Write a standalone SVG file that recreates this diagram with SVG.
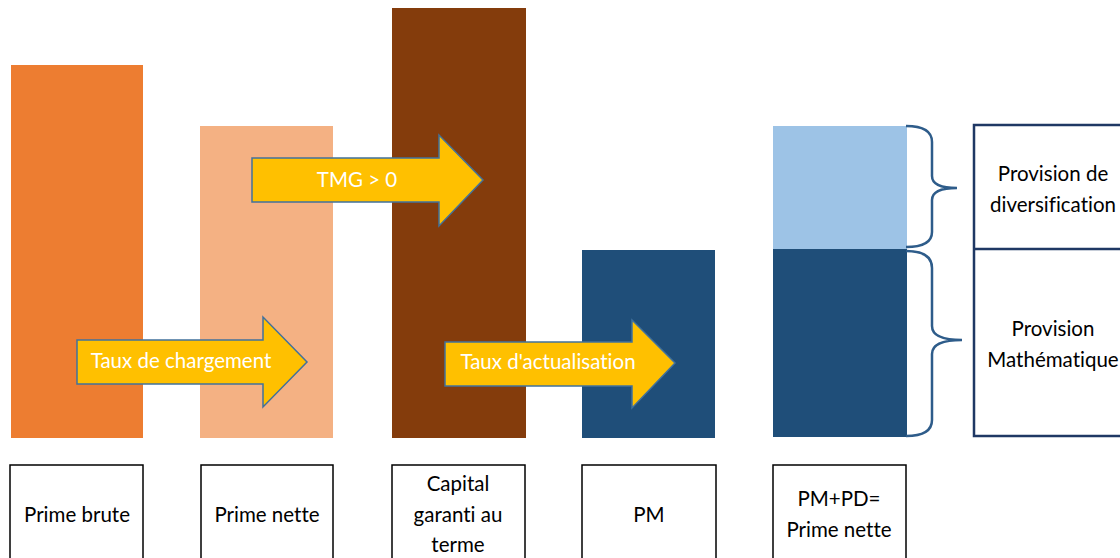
<svg xmlns="http://www.w3.org/2000/svg" width="1120" height="558" viewBox="0 0 1120 558">
<style>
text{font-family:Lato,"Open Sans","Liberation Sans",sans-serif;font-size:20.5px;text-anchor:middle;font-variant-ligatures:none}
.lbl{fill:#000}
.wt{fill:#fff}
.box{fill:#fff;stroke:#000;stroke-width:1.5}
.arrow{fill:#FFC000;stroke:#41719C;stroke-width:1.5}
.brace{fill:none;stroke:#2E5C8A;stroke-width:2.5}
.rbox{fill:#fff;stroke:#1F3864;stroke-width:2.5}
</style>
<rect width="1120" height="558" fill="#fff"/>
<g id="bar-prime-brute"><rect x="11" y="65" width="132" height="373" fill="#ED7D31"/></g>
<g id="bar-prime-nette"><rect x="200" y="126" width="133" height="312" fill="#F4B183"/></g>
<g id="bar-capital"><rect x="392" y="8" width="134" height="430" fill="#843C0C"/></g>
<g id="bar-pm"><rect x="582" y="250" width="133" height="188" fill="#1F4E79"/></g>
<g id="bar-pd"><rect x="773" y="126" width="134" height="123" fill="#9DC3E6"/><rect x="773" y="249" width="134" height="188" fill="#1F4E79"/></g>
<g id="connectors">
<path class="brace" d="M906,126 Q932,126 932,142 L932,176 Q932,188 957,188 Q932,188 932,200 L932,232 Q932,247 906,247"/>
<path class="brace" d="M906,251 Q932,251 932,268 L932,326 Q932,340 962,340 Q932,340 932,354 L932,420 Q932,436 906,436"/>
</g>
<g id="arrow-chargement"><path class="arrow" d="M77,340 L263,340 L263,317 L307,362 L263,407 L263,384 L77,384 Z"/><text class="wt" x="181" y="368">Taux de chargement</text></g>
<g id="arrow-tmg"><path class="arrow" d="M252,158 L439,158 L439,135 L483,180 L439,226 L439,202 L252,202 Z"/><text class="wt" x="357" y="187">TMG &gt; 0</text></g>
<g id="arrow-actualisation"><path class="arrow" d="M445,342 L632,342 L632,320 L675,363 L632,408 L632,386 L445,386 Z"/><text class="wt" x="548" y="369">Taux d'actualisation</text></g>
<g id="box-provisions">
<rect class="rbox" x="974" y="125" width="160" height="311"/>
<line x1="974" y1="249" x2="1134" y2="249" stroke="#1F3864" stroke-width="2.5"/>
<text class="lbl" x="1053" y="181">Provision de</text>
<text class="lbl" x="1053" y="212">diversification</text>
<text class="lbl" x="1053" y="336">Provision</text>
<text class="lbl" x="1053" y="367">Mathématique</text>
</g>
<g id="label-prime-brute"><rect class="box" x="10" y="465" width="133" height="110"/><text class="lbl" x="77" y="522">Prime brute</text></g>
<g id="label-prime-nette"><rect class="box" x="201" y="465" width="132" height="110"/><text class="lbl" x="267" y="522">Prime nette</text></g>
<g id="label-capital"><rect class="box" x="392" y="465" width="133" height="110"/><text class="lbl" x="458" y="491">Capital</text><text class="lbl" x="458" y="522">garanti au</text><text class="lbl" x="458" y="552">terme</text></g>
<g id="label-pm"><rect class="box" x="582" y="465" width="134" height="110"/><text class="lbl" x="649" y="522">PM</text></g>
<g id="label-pmpd"><rect class="box" x="773" y="465" width="133" height="110"/><text class="lbl" x="839" y="506">PM+PD=</text><text class="lbl" x="839" y="537">Prime nette</text></g>
</svg>
